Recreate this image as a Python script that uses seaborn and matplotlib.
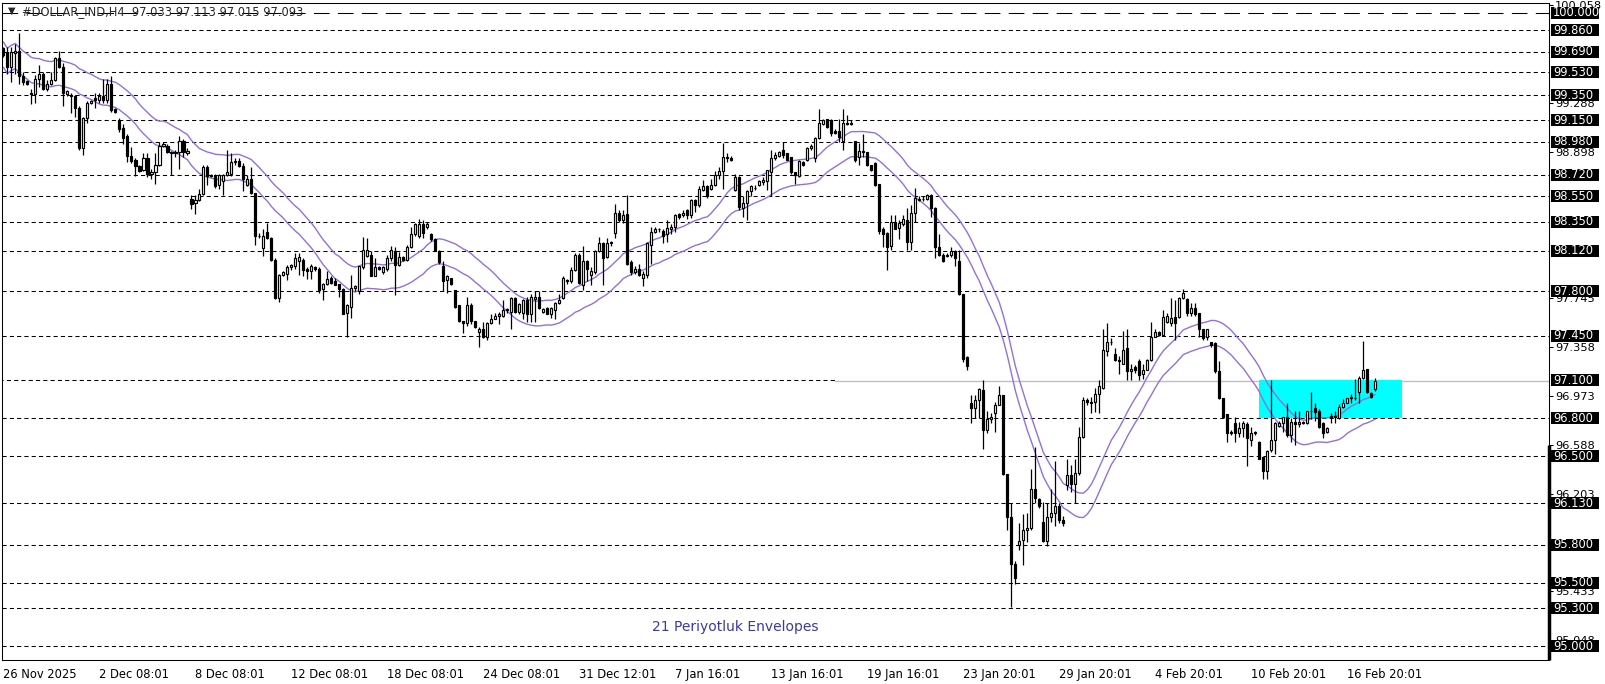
import numpy as np
import pandas as pd
import matplotlib
matplotlib.use("Agg")
import matplotlib.pyplot as plt
import matplotlib.transforms as mtransforms
from matplotlib.patches import Rectangle
import seaborn as sns

# Candles H4 do #DOLLAR_IND (um valor por barra)
opens = [
    99.72, 99.69, 99.57, 99.68, 99.70, 99.50, 99.46, 99.37, 99.36, 99.48,
    99.52, 99.40, 99.44, 99.47, 99.64, 99.57, 99.36, 99.35, 99.34, 99.25,
    98.93, 99.17, 99.29, 99.33, 99.31, 99.34, 99.31, 99.44, 99.24, 99.15,
    99.09, 99.03, 98.87, 98.84, 98.79, 98.76, 98.85, 98.73, 98.74, 98.80,
    98.95, 98.95, 98.90, 98.89, 98.90, 98.99, 98.89, 98.53, 98.50, 98.52,
    98.57, 98.78, 98.72, 98.71, 98.64, 98.67, 98.72, 98.73, 98.82, 98.83,
    98.79, 98.64, 98.69, 98.58, 98.24, 98.14, 98.27, 98.22, 98.05, 97.75,
    97.93, 97.94, 97.99, 98.00, 98.04, 98.05, 97.98, 97.96, 97.99, 97.98,
    97.82, 97.86, 97.91, 97.88, 97.86, 97.82, 97.63, 97.68, 97.83, 97.80,
    97.99, 98.08, 98.09, 97.92, 97.99, 97.95, 97.98, 98.06, 98.12, 98.01,
    98.07, 98.05, 98.15, 98.25, 98.24, 98.33, 98.31, 98.25, 98.21, 98.12,
    98.00, 97.89, 97.91, 97.81, 97.69, 97.57, 97.55, 97.69, 97.57, 97.48,
    97.50, 97.44, 97.55, 97.58, 97.61, 97.61, 97.65, 97.64, 97.75, 97.64,
    97.63, 97.73, 97.62, 97.74, 97.76, 97.64, 97.67, 97.62, 97.65, 97.71,
    97.75, 97.89, 97.88, 97.97, 98.09, 97.85, 98.04, 97.93, 97.95, 98.12,
    98.18, 98.07, 98.18, 98.26, 98.42, 98.36, 98.41, 98.03, 97.95, 97.98,
    97.91, 97.93, 98.17, 98.27, 98.29, 98.28, 98.25, 98.29, 98.31, 98.41,
    98.40, 98.44, 98.40, 98.52, 98.48, 98.60, 98.63, 98.61, 98.64, 98.72,
    98.75, 98.86, 98.85, 98.60, 98.70, 98.46, 98.50, 98.59, 98.62, 98.64,
    98.66, 98.67, 98.74, 98.85, 98.87, 98.92, 98.89, 98.86, 98.74, 98.71,
    98.82, 98.84, 98.93, 98.85, 99.01, 99.12, 99.16, 99.15, 99.07, 99.07,
    98.99, 99.13, 99.12, 98.99, 98.86, 98.91, 98.90, 98.80, 98.81, 98.65,
    98.29, 98.26, 98.16, 98.35, 98.30, 98.33, 98.36, 98.19, 98.42, 98.53,
    98.53, 98.53, 98.56, 98.46, 98.15, 98.09, 98.08, 98.09, 98.12, 98.04,
    97.78, 97.28, 96.92, 96.88, 96.94, 97.02, 96.71, 96.79, 96.84, 96.90,
    96.98, 96.36, 96.02, 95.65, 95.80, 95.84, 95.92, 95.93, 96.24, 96.16,
    95.98, 95.83, 96.02, 96.05, 96.11, 96.00, 96.27, 96.35, 96.28, 96.37,
    96.65, 96.94, 96.93, 96.93, 96.99, 97.04, 97.33, 97.40, 97.31, 97.26,
    97.23, 97.35, 97.17, 97.20, 97.25, 97.15, 97.18, 97.26, 97.44, 97.48,
    97.46, 97.56, 97.55, 97.60, 97.60, 97.75, 97.74, 97.63, 97.67, 97.63,
    97.50, 97.44, 97.40, 97.39, 97.17, 96.96, 96.83, 96.69, 96.76, 96.68,
    96.72, 96.75, 96.63, 96.68, 96.61, 96.49, 96.38, 96.55, 96.63, 96.74,
    96.76, 96.81, 96.67, 96.77, 96.75, 96.76, 96.76, 96.86, 96.88, 96.86,
    96.76, 96.69, 96.82, 96.82, 96.80, 96.89, 96.92, 96.97, 96.96, 97.01,
    97.12, 97.19, 97.00, 97.033,
]
highs = [
    99.73, 99.73, 99.73, 99.75, 99.84, 99.53, 99.47, 99.40, 99.51, 99.59,
    99.53, 99.47, 99.53, 99.65, 99.70, 99.60, 99.39, 99.37, 99.35, 99.26,
    99.18, 99.30, 99.31, 99.37, 99.37, 99.48, 99.48, 99.50, 99.25, 99.17,
    99.12, 99.04, 98.94, 98.85, 98.80, 98.89, 98.89, 98.77, 98.89, 98.98,
    98.98, 98.96, 98.91, 98.92, 99.03, 99.00, 98.93, 98.56, 98.56, 98.61,
    98.80, 98.80, 98.73, 98.73, 98.73, 98.73, 98.92, 98.89, 98.85, 98.85,
    98.81, 98.72, 98.78, 98.58, 98.26, 98.29, 98.34, 98.23, 98.06, 97.94,
    97.96, 98.01, 98.02, 98.10, 98.10, 98.06, 97.99, 98.02, 98.00, 97.99,
    97.87, 97.96, 97.92, 97.91, 97.86, 97.83, 97.70, 97.93, 97.85, 98.00,
    98.23, 98.22, 98.12, 98.06, 98.00, 98.00, 98.09, 98.16, 98.15, 98.11,
    98.08, 98.17, 98.31, 98.34, 98.37, 98.36, 98.35, 98.26, 98.22, 98.13,
    98.04, 97.93, 97.91, 97.81, 97.69, 97.57, 97.76, 97.71, 97.57, 97.52,
    97.56, 97.56, 97.62, 97.63, 97.64, 97.73, 97.67, 97.76, 97.76, 97.71,
    97.74, 97.76, 97.78, 97.80, 97.80, 97.67, 97.68, 97.68, 97.72, 97.78,
    97.92, 97.90, 97.99, 98.10, 98.10, 98.16, 98.05, 97.99, 98.13, 98.23,
    98.19, 98.22, 98.20, 98.49, 98.44, 98.44, 98.56, 98.05, 98.00, 98.02,
    97.96, 98.19, 98.31, 98.31, 98.30, 98.29, 98.36, 98.33, 98.41, 98.42,
    98.44, 98.45, 98.53, 98.53, 98.63, 98.68, 98.64, 98.69, 98.75, 98.78,
    98.97, 98.89, 98.87, 98.73, 98.71, 98.55, 98.60, 98.64, 98.64, 98.68,
    98.70, 98.76, 98.92, 98.90, 98.91, 98.98, 98.89, 98.86, 98.74, 98.84,
    98.83, 98.94, 98.96, 99.02, 99.24, 99.16, 99.16, 99.16, 99.08, 99.16,
    99.24, 99.19, 99.15, 98.99, 98.97, 99.04, 98.90, 98.80, 98.82, 98.65,
    98.31, 98.27, 98.40, 98.40, 98.36, 98.40, 98.46, 98.48, 98.62, 98.55,
    98.55, 98.57, 98.57, 98.47, 98.25, 98.10, 98.10, 98.15, 98.13, 98.13,
    97.78, 97.29, 96.98, 96.98, 97.04, 97.10, 96.86, 96.84, 96.93, 97.05,
    96.98, 96.36, 96.13, 95.67, 95.97, 96.04, 96.05, 96.40, 96.57, 96.17,
    96.14, 96.13, 96.24, 96.46, 96.13, 96.03, 96.48, 96.43, 96.48, 96.73,
    96.97, 96.96, 96.97, 97.04, 97.10, 97.50, 97.55, 97.43, 97.35, 97.29,
    97.49, 97.50, 97.23, 97.22, 97.27, 97.23, 97.27, 97.56, 97.50, 97.49,
    97.65, 97.63, 97.75, 97.73, 97.76, 97.82, 97.75, 97.71, 97.71, 97.63,
    97.50, 97.50, 97.40, 97.40, 97.25, 96.96, 96.83, 96.71, 96.81, 96.77,
    96.78, 96.77, 96.73, 96.70, 96.62, 96.50, 96.55, 97.10, 96.77, 96.78,
    96.81, 96.92, 96.80, 96.86, 96.86, 96.78, 96.86, 97.01, 96.92, 96.87,
    96.77, 96.73, 96.84, 96.86, 96.91, 96.95, 96.96, 96.99, 97.11, 97.13,
    97.41, 97.19, 97.01, 97.113,
]
lows = [
    99.65, 99.52, 99.45, 99.52, 99.44, 99.43, 99.43, 99.28, 99.29, 99.41,
    99.39, 99.38, 99.43, 99.46, 99.56, 99.26, 99.34, 99.21, 99.18, 98.92,
    98.88, 99.13, 99.28, 99.25, 99.29, 99.29, 99.29, 99.22, 99.21, 99.06,
    98.96, 98.82, 98.81, 98.71, 98.74, 98.75, 98.70, 98.69, 98.65, 98.79,
    98.94, 98.89, 98.72, 98.86, 98.77, 98.86, 98.88, 98.45, 98.41, 98.51,
    98.56, 98.64, 98.70, 98.62, 98.61, 98.56, 98.71, 98.71, 98.80, 98.78,
    98.59, 98.63, 98.57, 98.17, 98.22, 98.08, 98.21, 98.04, 97.74, 97.72,
    97.92, 97.89, 97.97, 97.98, 97.93, 97.92, 97.90, 97.90, 97.96, 97.79,
    97.73, 97.85, 97.86, 97.85, 97.76, 97.62, 97.44, 97.59, 97.80, 97.78,
    97.98, 98.07, 97.92, 97.92, 97.97, 97.94, 97.96, 98.04, 97.77, 98.00,
    98.04, 98.04, 98.14, 98.24, 98.22, 98.22, 98.29, 98.20, 98.12, 98.02,
    97.80, 97.79, 97.85, 97.67, 97.56, 97.47, 97.53, 97.54, 97.51, 97.36,
    97.43, 97.42, 97.54, 97.58, 97.54, 97.60, 97.63, 97.50, 97.63, 97.62,
    97.58, 97.56, 97.56, 97.56, 97.66, 97.63, 97.62, 97.59, 97.58, 97.70,
    97.74, 97.86, 97.87, 97.96, 97.86, 97.81, 97.88, 97.85, 97.94, 98.11,
    97.85, 98.06, 98.16, 98.22, 98.35, 98.34, 98.01, 97.93, 97.94, 97.92,
    97.84, 97.91, 98.02, 98.26, 98.27, 98.18, 98.19, 98.25, 98.27, 98.37,
    98.39, 98.37, 98.38, 98.43, 98.47, 98.59, 98.54, 98.60, 98.63, 98.69,
    98.61, 98.82, 98.83, 98.59, 98.44, 98.39, 98.36, 98.55, 98.60, 98.63,
    98.64, 98.60, 98.55, 98.84, 98.86, 98.85, 98.84, 98.73, 98.65, 98.70,
    98.79, 98.83, 98.92, 98.82, 99.00, 99.11, 99.09, 99.03, 99.04, 98.98,
    98.92, 99.11, 99.11, 98.82, 98.80, 98.86, 98.79, 98.75, 98.63, 98.25,
    98.15, 97.97, 98.13, 98.29, 98.21, 98.32, 98.13, 98.13, 98.35, 98.51,
    98.51, 98.52, 98.39, 98.06, 98.08, 98.03, 98.07, 98.07, 98.00, 97.77,
    97.24, 97.18, 96.76, 96.80, 96.80, 96.56, 96.68, 96.76, 96.69, 96.90,
    96.35, 95.92, 95.31, 95.49, 95.76, 95.64, 95.82, 95.92, 96.13, 96.09,
    95.82, 95.79, 95.98, 95.95, 95.97, 95.95, 96.23, 96.22, 96.13, 96.35,
    96.64, 96.90, 96.84, 96.85, 96.84, 97.03, 97.29, 97.38, 97.25, 97.15,
    97.23, 97.10, 97.10, 97.16, 97.10, 97.11, 97.18, 97.25, 97.44, 97.45,
    97.45, 97.55, 97.53, 97.42, 97.59, 97.74, 97.61, 97.61, 97.61, 97.44,
    97.42, 97.42, 97.36, 97.16, 96.95, 96.80, 96.61, 96.67, 96.61, 96.65,
    96.65, 96.42, 96.58, 96.67, 96.48, 96.32, 96.32, 96.53, 96.52, 96.73,
    96.69, 96.65, 96.61, 96.59, 96.73, 96.75, 96.75, 96.79, 96.78, 96.72,
    96.64, 96.68, 96.76, 96.76, 96.79, 96.88, 96.92, 96.92, 96.94, 96.92,
    97.11, 97.00, 96.96, 97.015,
]
closes = [
    99.67, 99.57, 99.69, 99.70, 99.50, 99.45, 99.44, 99.36, 99.48, 99.52,
    99.40, 99.44, 99.47, 99.64, 99.57, 99.37, 99.38, 99.34, 99.25, 98.93,
    99.17, 99.29, 99.30, 99.31, 99.34, 99.31, 99.44, 99.23, 99.22, 99.08,
    99.01, 98.87, 98.83, 98.79, 98.75, 98.85, 98.73, 98.74, 98.80, 98.95,
    98.96, 98.90, 98.89, 98.90, 98.99, 98.90, 98.91, 98.49, 98.52, 98.57,
    98.78, 98.71, 98.71, 98.63, 98.72, 98.72, 98.74, 98.82, 98.83, 98.79,
    98.69, 98.69, 98.58, 98.24, 98.24, 98.24, 98.22, 98.05, 97.75, 97.93,
    97.95, 97.99, 98.01, 98.06, 98.07, 97.97, 97.96, 98.00, 97.98, 97.81,
    97.86, 97.90, 97.87, 97.85, 97.82, 97.62, 97.69, 97.83, 97.84, 98.00,
    98.13, 98.13, 97.92, 97.99, 97.98, 97.99, 98.06, 98.13, 98.01, 98.07,
    98.05, 98.15, 98.25, 98.33, 98.33, 98.26, 98.33, 98.21, 98.12, 98.03,
    97.88, 97.92, 97.86, 97.68, 97.57, 97.55, 97.69, 97.57, 97.52, 97.50,
    97.44, 97.55, 97.58, 97.61, 97.62, 97.65, 97.66, 97.75, 97.64, 97.70,
    97.73, 97.62, 97.76, 97.76, 97.67, 97.66, 97.62, 97.67, 97.71, 97.73,
    97.91, 97.88, 97.97, 98.09, 97.87, 98.04, 97.98, 97.96, 98.12, 98.18,
    98.06, 98.18, 98.19, 98.42, 98.36, 98.40, 98.02, 97.95, 97.98, 97.93,
    97.94, 98.18, 98.27, 98.29, 98.29, 98.24, 98.30, 98.31, 98.40, 98.39,
    98.42, 98.40, 98.52, 98.48, 98.61, 98.63, 98.55, 98.64, 98.72, 98.75,
    98.86, 98.85, 98.84, 98.70, 98.47, 98.50, 98.59, 98.63, 98.62, 98.67,
    98.68, 98.76, 98.85, 98.88, 98.90, 98.88, 98.84, 98.74, 98.72, 98.83,
    98.80, 98.93, 98.95, 99.01, 99.13, 99.15, 99.10, 99.05, 99.05, 99.02,
    99.13, 99.12, 99.13, 98.84, 98.91, 98.90, 98.80, 98.76, 98.64, 98.28,
    98.25, 98.15, 98.35, 98.29, 98.34, 98.37, 98.19, 98.42, 98.54, 98.52,
    98.53, 98.56, 98.46, 98.15, 98.09, 98.04, 98.09, 98.12, 98.06, 97.78,
    97.27, 97.21, 96.88, 96.94, 97.03, 96.71, 96.79, 96.81, 96.90, 96.98,
    96.36, 96.02, 95.65, 95.54, 95.83, 95.92, 95.93, 96.24, 96.17, 96.11,
    95.83, 96.02, 96.05, 96.11, 96.00, 95.97, 96.35, 96.28, 96.37, 96.65,
    96.94, 96.93, 96.92, 96.99, 97.05, 97.34, 97.40, 97.40, 97.26, 97.25,
    97.34, 97.17, 97.19, 97.18, 97.14, 97.18, 97.26, 97.44, 97.48, 97.46,
    97.60, 97.61, 97.59, 97.55, 97.75, 97.79, 97.63, 97.67, 97.62, 97.50,
    97.43, 97.50, 97.38, 97.17, 96.96, 96.81, 96.68, 96.68, 96.68, 96.72,
    96.76, 96.64, 96.68, 96.69, 96.48, 96.38, 96.54, 96.63, 96.76, 96.76,
    96.81, 96.67, 96.77, 96.75, 96.77, 96.77, 96.86, 96.86, 96.85, 96.73,
    96.68, 96.72, 96.81, 96.81, 96.89, 96.92, 96.96, 96.96, 96.96, 97.12,
    97.18, 97.01, 96.97, 97.093,
]
assert len(opens) == len(highs) == len(lows) == len(closes) == 344

# Linhas horizontais desenhadas no gráfico
niveis = [99.860, 99.690, 99.530, 99.350, 99.150, 98.980, 98.720, 98.550,
          98.350, 98.120, 97.800, 97.450, 97.100, 96.800, 96.500, 96.130,
          95.800, 95.500, 95.300, 95.000]
nivel_topo = 100.000
# Escala de preço do terminal (as que não ficam escondidas atrás das caixas)
escala = [100.058, 99.288, 98.898, 97.745, 97.358, 96.973, 96.588, 96.203,
          95.433, 95.048]
# Eixo de tempo (posição da barra e rótulo)
barras_tempo = [0, 24, 48, 72, 96, 120, 144, 168, 192, 216, 240, 264, 288, 312, 336]
rotulos_tempo = ["26 Nov 2025", "2 Dec 08:01", "8 Dec 08:01", "12 Dec 08:01",
                 "18 Dec 08:01", "24 Dec 08:01", "31 Dec 12:01", "7 Jan 16:01",
                 "13 Jan 16:01", "19 Jan 16:01", "23 Jan 20:01", "29 Jan 20:01",
                 "4 Feb 20:01", "10 Feb 20:01", "16 Feb 20:01"]
# Zona retangular (barras e preços) e preço Bid
zona_barras = [313.9, 349.7]
zona_precos = [96.80, 97.10]
bid = 97.093
titulo = "#DOLLAR_IND,H4  97.033 97.113 97.015 97.093"
periodo_env = 21
desvio_env = 0.10  # %

sns.set_style("white")
plt.rcParams["font.family"] = ["DejaVu Sans"]

W, H = 1606, 684
L, R, T, B = 2, 1549, 3, 660
px_barra, px_preco = 4.0, 126.7
fig = plt.figure(figsize=(W / 100, H / 100), dpi=100)
ax = fig.add_axes([L / W, 1 - B / H, (R - L) / W, (B - T) / H])

df = pd.DataFrame({"open": opens, "high": highs, "low": lows, "close": closes})
df["barra"] = np.arange(len(df))
media = df["close"].rolling(periodo_env, min_periods=1).mean()
df["sup"] = media * (1 + desvio_env / 100)
df["inf"] = media * (1 - desvio_env / 100)
alta = df["close"] >= df["open"]

# linhas horizontais
for n in niveis:
    if n == 97.100:
        ax.plot([-1, 208], [n, n], color="black", lw=0.75, ls=(0, (4, 3)), zorder=1)
    else:
        ax.axhline(n, color="black", lw=0.75, ls=(0, (4, 3)), zorder=1)
ax.axhline(nivel_topo, color="black", lw=0.75, ls=(0, (15, 8)), zorder=1)
ax.plot([208, 400], [bid, bid], color="#c0c0c0", lw=1.0, zorder=1.2)

# zona ciano
ax.add_patch(Rectangle((zona_barras[0], zona_precos[0]), zona_barras[1] - zona_barras[0],
                       zona_precos[1] - zona_precos[0], facecolor="#00ffff",
                       edgecolor="none", zorder=1.5))

# envelopes
sns.lineplot(data=df, x="barra", y="sup", color="#9370db", lw=1.0, ax=ax, zorder=2)
sns.lineplot(data=df, x="barra", y="inf", color="#9370db", lw=1.0, ax=ax, zorder=2)

# candles
ax.vlines(df["barra"], df["low"], df["high"], color="black", lw=0.9, zorder=3)
ax.bar(df["barra"], (df["close"] - df["open"]).abs(),
       bottom=np.minimum(df["open"], df["close"]), width=0.6,
       color=np.where(alta, "white", "black"), edgecolor="black",
       linewidth=0.85, zorder=4)

ax.set_xlim((L - 3.3) / px_barra, (R - 3.3) / px_barra)
ax.set_ylim(100 - (B - 12.7) / px_preco, 100 + (12.7 - T) / px_preco)
ax.set_xlabel("")
ax.set_ylabel("")
for s in ax.spines.values():
    s.set_color("black")
    s.set_linewidth(0.75)

ax.set_xticks(barras_tempo)
ax.set_xticklabels(rotulos_tempo, ha="left", fontsize=8.3)
ax.tick_params(axis="x", direction="out", length=4, width=0.75, pad=1.5, colors="black")
ax.yaxis.tick_right()
ax.set_yticks(escala)
ax.set_yticklabels([f"{v:.3f}" for v in escala], fontsize=8.2)
ax.tick_params(axis="y", direction="out", length=3, width=0.75, pad=1.2, colors="black")

# caixas pretas com o preço de cada linha horizontal (48 x 12 px)
trans = mtransforms.blended_transform_factory(ax.transAxes, ax.transData)
larg_caixa = 48 / (R - L)
alt_caixa = 12 / px_preco
for n in niveis + [nivel_topo]:
    ax.add_patch(Rectangle((1 + 2 / (R - L), n - alt_caixa / 2), larg_caixa, alt_caixa,
                           transform=trans, facecolor="black", edgecolor="none",
                           clip_on=False, zorder=6))
    ax.text(1 + 4 / (R - L), n, f"{n:.3f}", transform=trans, fontsize=8.3,
            color="white", ha="left", va="center", clip_on=False, zorder=7)

# barra grossa na borda direita
ax.plot([1, 1], [96.59, ax.get_ylim()[0]], transform=trans, color="black",
        lw=2.5, solid_capstyle="butt", clip_on=False, zorder=5)

fig.text(12 / W, 1 - 11 / H, "▼", fontsize=7, ha="center", va="center")
fig.text(22 / W, 1 - 12 / H, titulo, fontsize=8.3, ha="left", va="center")
fig.text(735 / W, 1 - 627 / H, "21 Periyotluk Envelopes", fontsize=10,
         color="#3a3aa6", ha="center", va="center")

fig.savefig("out.png", dpi=100)
